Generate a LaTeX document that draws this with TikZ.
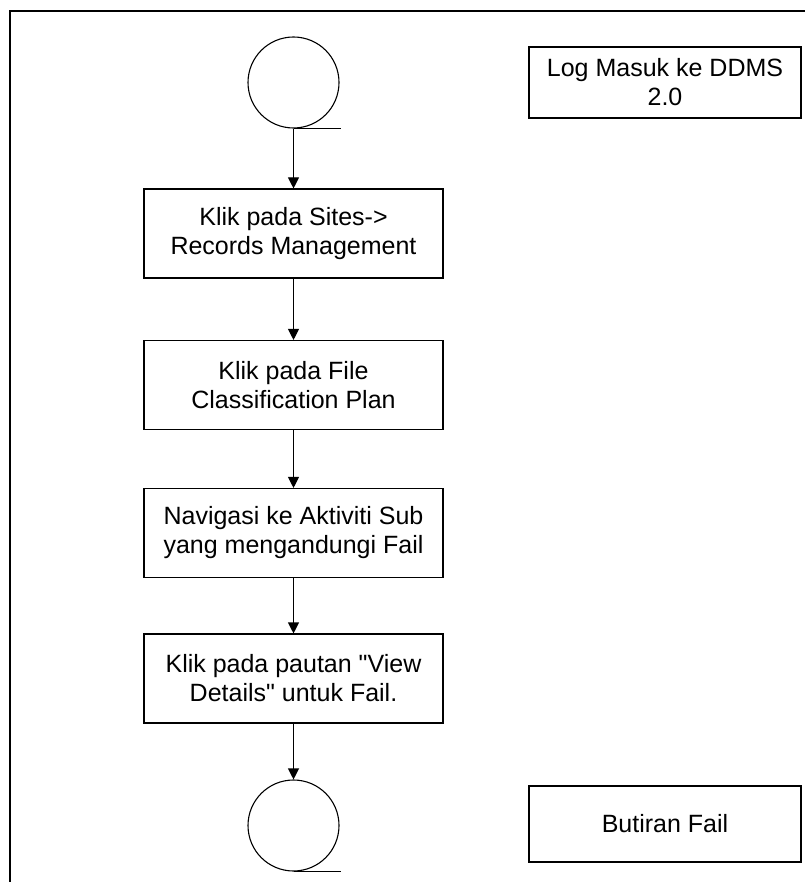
\documentclass[tikz,border=0pt]{standalone}
\usepackage{fontspec}
\newfontfamily\boxfont{Liberation Sans}
\usetikzlibrary{arrows.meta}

\begin{document}
\begin{tikzpicture}[x=1pt, y=-1pt, line width=1.1pt,
    stepbox/.style={draw, rectangle, align=center, minimum width=299pt, minimum height=89pt, inner sep=0pt},
    sidebox/.style={draw, rectangle, align=center, minimum width=272pt, inner sep=0pt},
    endcircle/.style={draw, circle, minimum size=91pt, inner sep=0pt},
    flow/.style={-{Triangle[width=11pt,length=11pt]}},
    font=\boxfont\fontsize{25}{29}\selectfont]
    \useasboundingbox (0,0) rectangle (805,882);
    % frame
    \draw (10,882) -- (10,11) -- (805,11);
    % main flow
    \node[endcircle] (start) at (293.5,82.5) {};
    \node[stepbox] (sites) at (293.5,233.5) {Klik pada Sites->\\Records Management};
    \node[stepbox] (plan) at (293.5,385) {Klik pada File\\Classification Plan};
    \node[stepbox] (navi) at (293.5,533) {Navigasi ke Aktiviti Sub\\yang mengandungi Fail};
    \node[stepbox] (view) at (293.5,678.5) {Klik pada pautan "View\\Details" untuk Fail.};
    \node[endcircle] (stop) at (293.5,825.5) {};
    \draw (start.south) -- ++(47,0);
    \draw (stop.south) -- ++(47,0);
    \draw[flow] (start) -- (sites);
    \draw[flow] (sites) -- (plan);
    \draw[flow] (plan) -- (navi);
    \draw[flow] (navi) -- (view);
    \draw[flow] (view) -- (stop);
    % side notes
    \node[sidebox, minimum height=71pt] (login) at (665,82.5) {Log Masuk ke DDMS\\2.0};
    \node[sidebox, minimum height=76pt] (detail) at (665,824) {Butiran Fail};
\end{tikzpicture}
\end{document}
